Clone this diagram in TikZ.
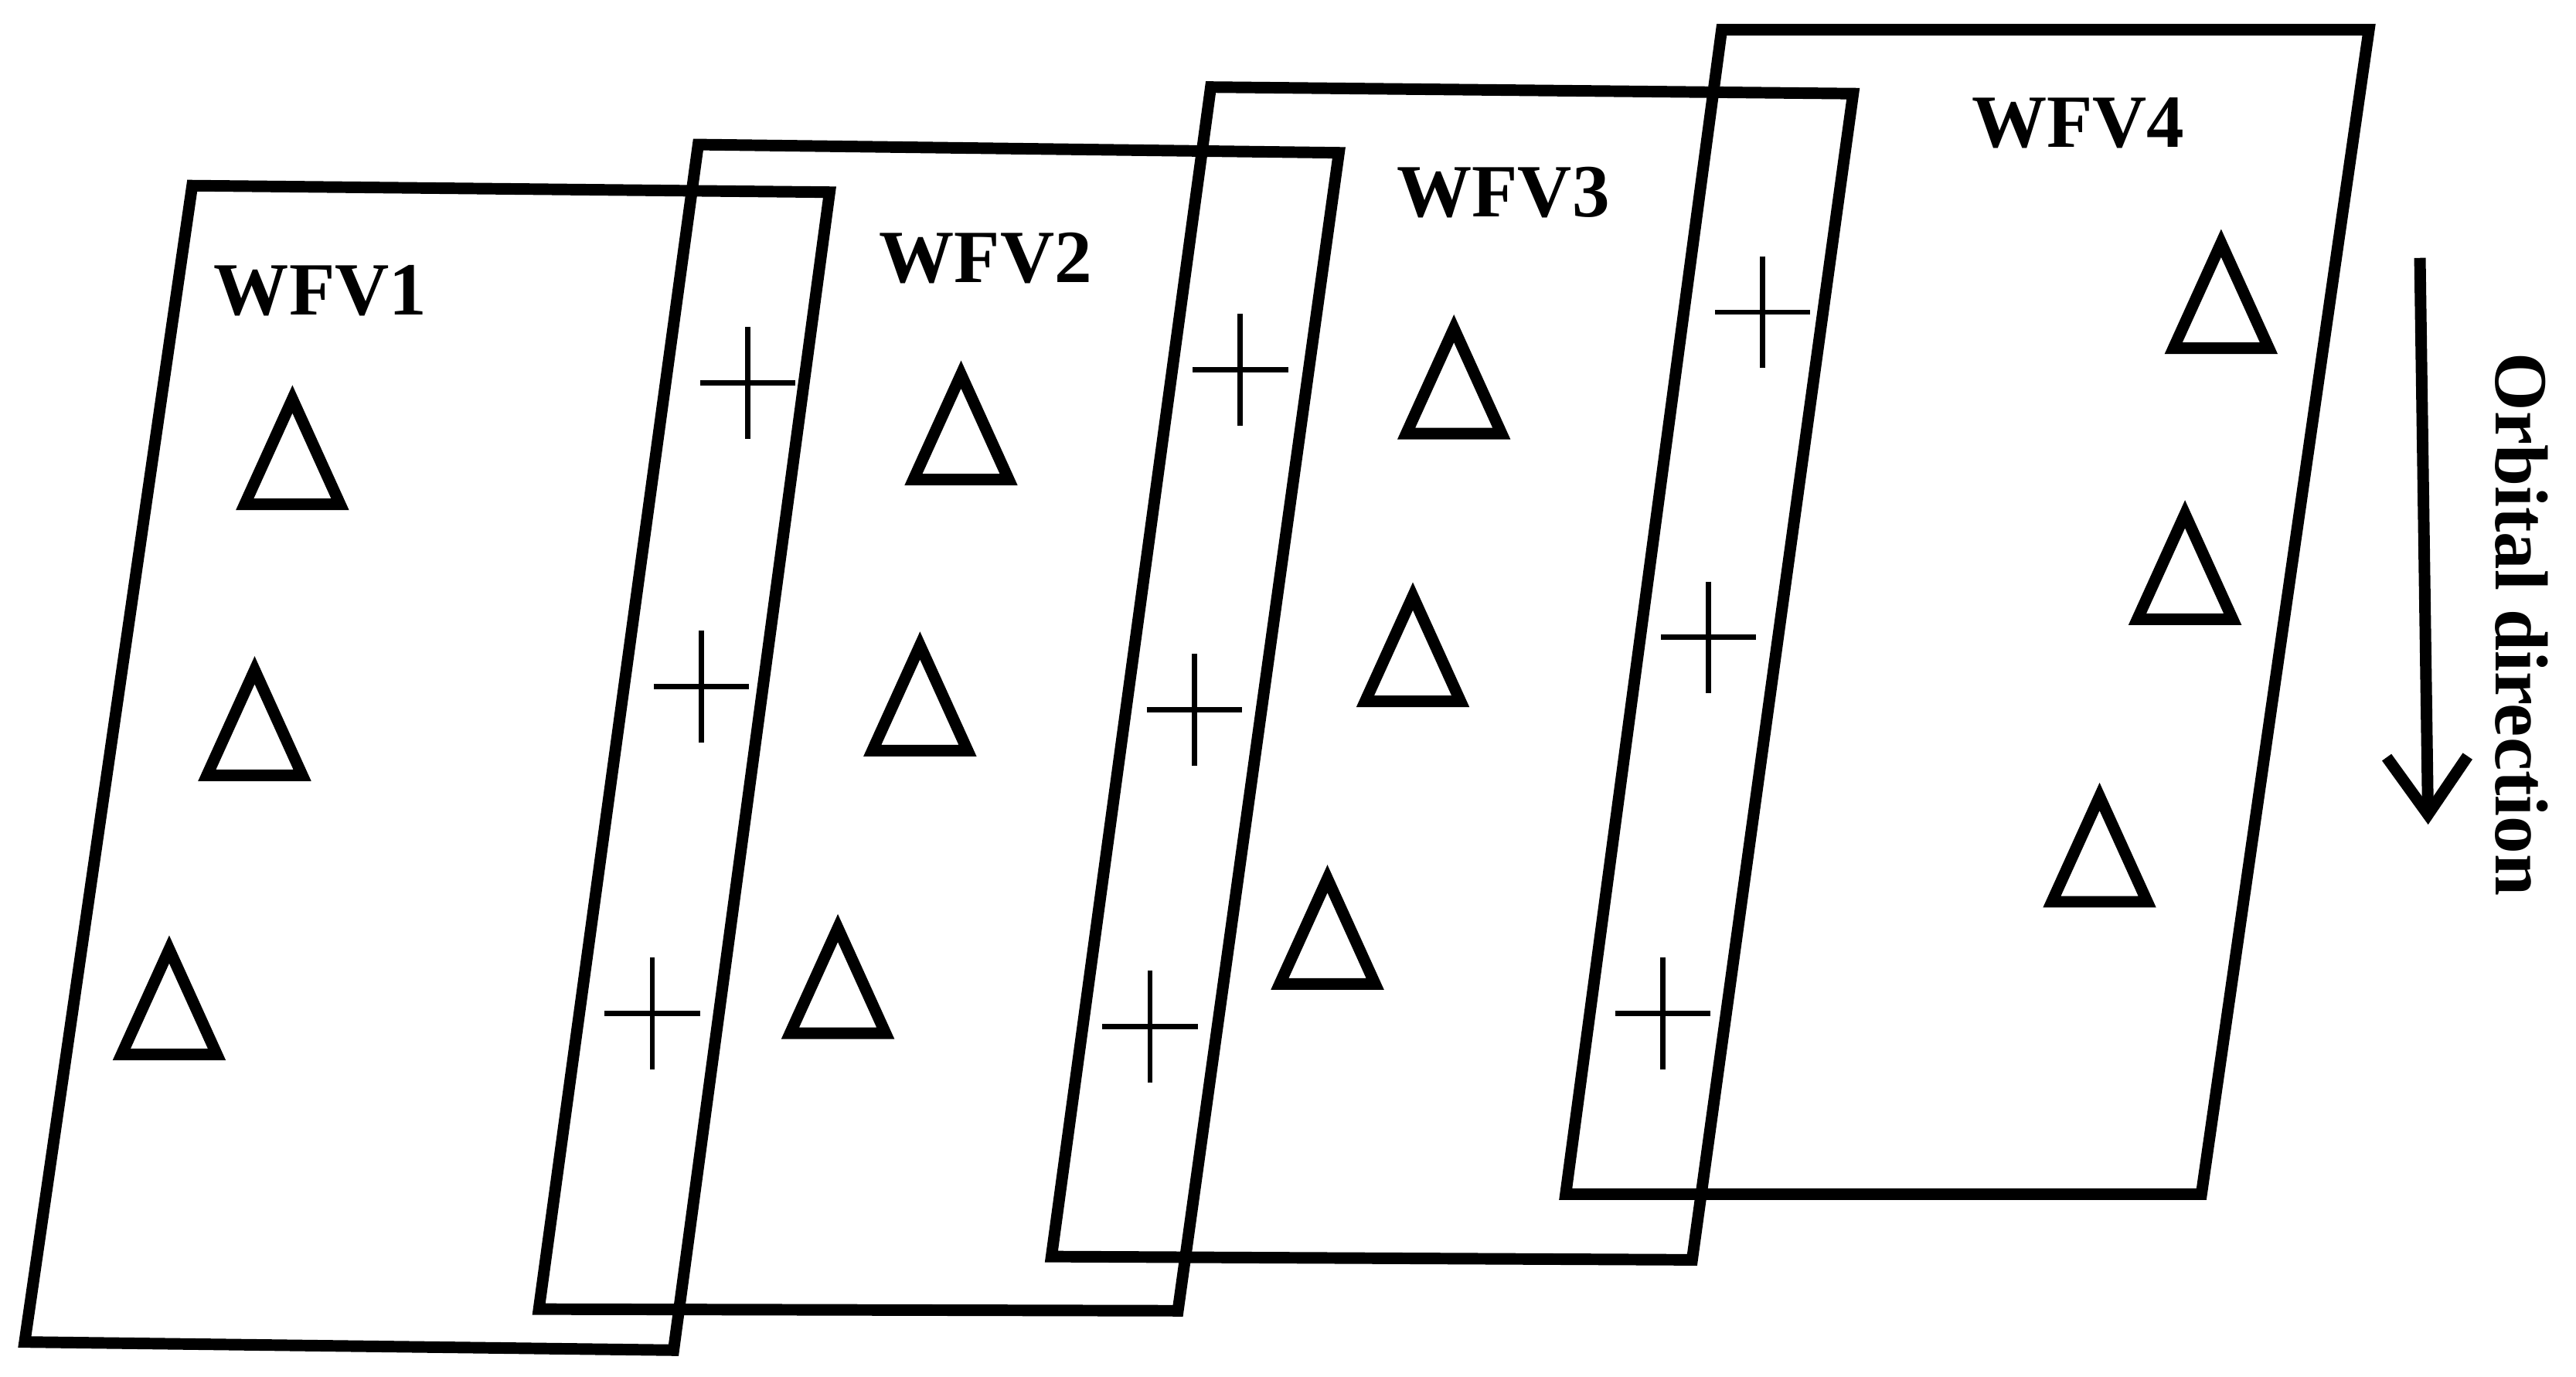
\documentclass[tikz,border=0pt]{standalone}
\usepackage{fontspec}
\setmainfont{Liberation Serif}
\usetikzlibrary{arrows.meta}
\begin{document}
\begin{tikzpicture}[x=0.01cm,y=-0.01cm,
  frame/.style={line width=2pt,line join=miter},
  tri/.style={line width=2pt,line join=miter},
  lab/.style={font=\fontsize{13}{15}\selectfont\bfseries,inner sep=0pt}]
\useasboundingbox (0,0) rectangle (1568,838);
\draw[frame] (117,113) -- (505,117) -- (410,822) -- (15,817) -- cycle;
\draw[frame] (425,88) -- (815,93) -- (717,798) -- (328,797) -- cycle;
\draw[frame] (737,53) -- (1128,57) -- (1030,767) -- (640,765) -- cycle;
\draw[frame] (1048,18) -- (1442,18) -- (1340,727) -- (953,727) -- cycle;
\foreach \x/\y in {178/275,155/440,103/610,585/260,560/425,510/597,885/232,860/395,808/567,1352/180,1330/345,1278/517}
  \draw[tri] (\x,\y-32) -- (\x+29,\y+32) -- (\x-29,\y+32) -- cycle;
\foreach \x/\y in {455/233,427/418,397/617,755/225,727/432,700/625,1073/190,1040/388,1012/617}
  \draw[line width=0.9pt] (\x-29,\y) -- (\x+29,\y) (\x,\y-34) -- (\x,\y+34);
\node[lab] (w1) at (195,177) {WFV1};
\node[lab] (w2) at (600,157) {WFV2};
\node[lab] (w3) at (915,117) {WFV3};
\node[lab] (w4) at (1265,75) {WFV4};
\coordinate (a1) at (1473,157);
\coordinate (a2) at (1478,502);
\draw[line width=2pt,-{Straight Barb[length=10pt,width=14pt,line width=2pt]}] (a1) -- (a2);
\node[lab,rotate=-90] (od) at (1535,380) {Orbital direction};
\end{tikzpicture}
\end{document}
